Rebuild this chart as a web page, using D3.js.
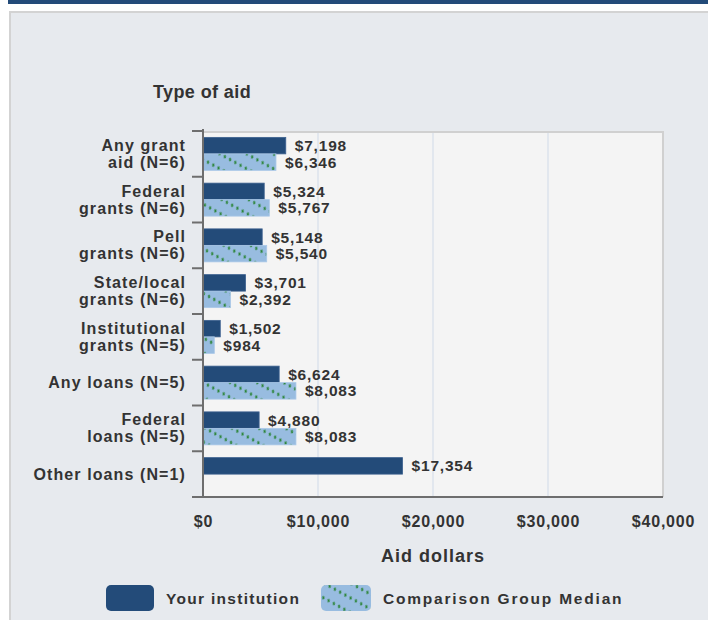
<!DOCTYPE html>
<html lang="en">
<head>
<meta charset="UTF-8">
<title>Type of aid</title>
<script src="https://d3js.org/d3.v7.min.js"></script>
<style>
    body { margin: 0; padding: 0; background: #fff; }
    svg text { font-family: "Liberation Sans", Arial, sans-serif; font-weight: bold; fill: #333; }
</style>
</head>
<body>
<svg id="chart" width="708" height="620"></svg>
<script>
    // data
    const categories = [
        ["Any grant", "aid (N=6)"],
        ["Federal", "grants (N=6)"],
        ["Pell", "grants (N=6)"],
        ["State/local", "grants (N=6)"],
        ["Institutional", "grants (N=5)"],
        ["Any loans (N=5)"],
        ["Federal", "loans (N=5)"],
        ["Other loans (N=1)"]
    ];
    const yourInstitution = [7198, 5324, 5148, 3701, 1502, 6624, 4880, 17354];
    const comparisonMedian = [6346, 5767, 5540, 2392, 984, 8083, 8083, null];
    const xTicks = [0, 10000, 20000, 30000, 40000];
    const seriesNames = ["Your institution", "Comparison Group Median"];

    const dark = "#234b79";
    const light = "#98bce0";

    const svg = d3.select("#chart");

    // page chrome
    svg.append("rect").attr("x", 8).attr("y", 0).attr("width", 700).attr("height", 4).attr("fill", dark);
    svg.append("rect").attr("x", 9).attr("y", 11).attr("width", 699).attr("height", 609)
        .attr("fill", "#e7eaee");
    svg.append("path").attr("d", "M10,620V12H708").attr("fill", "none")
        .attr("stroke", "#d3d3d3").attr("stroke-width", 2);

    // hatch pattern for comparison bars
    const defs = svg.append("defs");
    const pat = defs.append("pattern")
        .attr("id", "hatch")
        .attr("patternUnits", "userSpaceOnUse")
        .attr("width", 6).attr("height", 13)
        .attr("patternTransform", "rotate(29)");
    pat.append("rect").attr("width", 6).attr("height", 13).attr("fill", light);
    pat.append("line").attr("x1", 2).attr("y1", 0.6).attr("x2", 3.2).attr("y2", 3.4)
        .attr("stroke", "#2a8436").attr("stroke-width", 2);

    const plotLeft = 203, plotRight = 663, plotTop = 131, plotBottom = 497;

    const x = d3.scaleLinear().domain([0, 40000]).range([plotLeft, plotRight]);
    const y = d3.scaleBand().domain(d3.range(categories.length)).range([plotTop, plotBottom]);
    const barH = 16.5;

    // plot background + grid
    svg.append("rect").attr("x", plotLeft).attr("y", plotTop)
        .attr("width", plotRight - plotLeft).attr("height", plotBottom - plotTop)
        .attr("fill", "#f4f4f4");
    svg.selectAll(".grid").data(xTicks.slice(1, -1)).enter().append("line")
        .attr("x1", d => x(d)).attr("x2", d => x(d))
        .attr("y1", plotTop).attr("y2", plotBottom)
        .attr("stroke", "#d6deea").attr("stroke-width", 1.2);
    svg.append("path").attr("d", `M${plotLeft},${plotTop + 1}H${plotRight}V${plotBottom}`)
        .attr("fill", "none").attr("stroke", "#d0d0d0").attr("stroke-width", 2);

    // bars
    const g = svg.append("g");
    categories.forEach((c, i) => {
        const y0 = y(i) + y.bandwidth() / 2 - barH;
        g.append("rect")
            .attr("x", x(0)).attr("y", y0)
            .attr("width", x(yourInstitution[i]) - x(0)).attr("height", barH)
            .attr("fill", dark).attr("stroke", "#3d6190").attr("stroke-width", 0.8);
        g.append("text")
            .attr("x", x(yourInstitution[i]) + 9).attr("y", y0 + barH / 2 + 5.5)
            .attr("font-size", 15.5).attr("letter-spacing", 0.8)
            .text(d3.format("$,")(yourInstitution[i]));
        if (comparisonMedian[i] != null) {
            g.append("rect")
                .attr("x", x(0)).attr("y", y0 + barH)
                .attr("width", x(comparisonMedian[i]) - x(0)).attr("height", barH)
                .attr("fill", "url(#hatch)").attr("stroke", "#aac8e8").attr("stroke-width", 0.8);
            g.append("text")
                .attr("x", x(comparisonMedian[i]) + 9).attr("y", y0 + barH * 1.5 + 5.5)
                .attr("font-size", 15.5).attr("letter-spacing", 0.8)
                .text(d3.format("$,")(comparisonMedian[i]));
        }
    });

    // y axis
    svg.append("line").attr("x1", plotLeft).attr("x2", plotLeft).attr("y1", plotTop - 2).attr("y2", plotBottom)
        .attr("stroke", "#6e6e6e").attr("stroke-width", 2);
    svg.selectAll(".ytick").data(d3.range(categories.length + 1)).enter().append("line")
        .attr("x1", plotLeft - 11).attr("x2", plotLeft)
        .attr("y1", d => plotTop + d * y.step()).attr("y2", d => plotTop + d * y.step())
        .attr("stroke", "#6e6e6e").attr("stroke-width", 2);

    categories.forEach((c, i) => {
        const cy = y(i) + y.bandwidth() / 2;
        const t = svg.append("text").attr("text-anchor", "end")
            .attr("font-size", 16).attr("letter-spacing", 1.1);
        const startY = cy + 5.5 - (c.length - 1) * 17 / 2;
        c.forEach((line, k) => {
            t.append("tspan").attr("x", plotLeft - 17).attr("y", startY + k * 17).text(line);
        });
    });

    // x axis
    const xAxis = svg.append("g").attr("transform", `translate(0,${plotBottom})`)
        .call(d3.axisBottom(x).tickValues(xTicks).tickSize(0).tickPadding(19).tickFormat(d3.format("$,")));
    xAxis.select(".domain").remove();
    xAxis.attr("font-family", null).attr("font-size", null);
    xAxis.selectAll("text").attr("font-size", 16).attr("letter-spacing", 0.8)
        .attr("fill", null);
    svg.append("line").attr("x1", plotLeft - 10).attr("x2", plotRight).attr("y1", plotBottom).attr("y2", plotBottom)
        .attr("stroke", "#6e6e6e").attr("stroke-width", 2);

    // axis titles
    svg.append("text").attr("x", 153).attr("y", 98).attr("font-size", 18).attr("letter-spacing", 0.4)
        .text("Type of aid");
    svg.append("text").attr("x", (plotLeft + plotRight) / 2).attr("y", 562).attr("text-anchor", "middle")
        .attr("font-size", 18).attr("letter-spacing", 1)
        .text("Aid dollars");

    // legend
    const legend = [
        { name: seriesNames[0], fill: dark, x: 106, w: 48, ls: 1.3 },
        { name: seriesNames[1], fill: "url(#hatch)", x: 321, w: 50, ls: 1.8 }
    ];
    legend.forEach(l => {
        svg.append("rect").attr("x", l.x).attr("y", 585).attr("width", l.w).attr("height", 26)
            .attr("rx", 5).attr("fill", l.fill);
        svg.append("text").attr("x", l.x + l.w + 12).attr("y", 604)
            .attr("font-size", 15.5).attr("letter-spacing", l.ls).text(l.name);
    });
</script>
</body>
</html>
